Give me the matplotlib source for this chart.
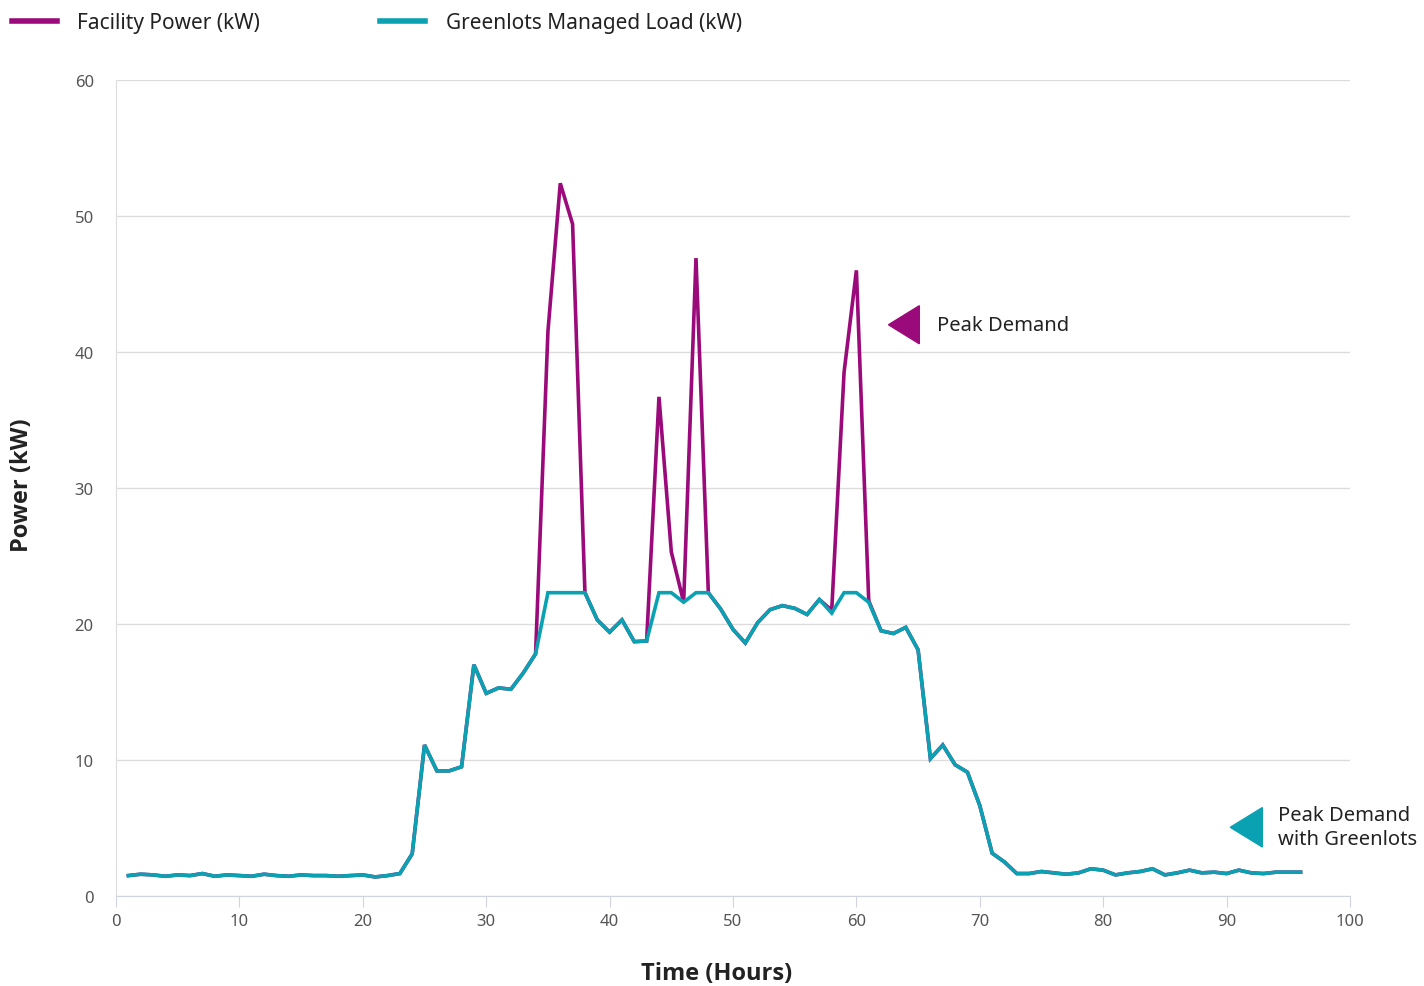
import matplotlib
matplotlib.use("Agg")
import matplotlib.pyplot as plt
from matplotlib.patches import Polygon

plt.rcParams['font.family'] = ['Noto Sans', 'DejaVu Sans']

# hours 1..96
hours = list(range(1, 97))

# Greenlots managed load (kW)
managed = [1.5, 1.6, 1.55, 1.45, 1.55, 1.5, 1.65, 1.45, 1.55, 1.5,
           1.45, 1.6, 1.5, 1.45, 1.55, 1.5, 1.5, 1.45, 1.5, 1.55,
           1.4, 1.5, 1.65, 3.1, 11.1, 9.2, 9.2, 9.5, 17.0, 14.9,
           15.3, 15.2, 16.4, 17.8, 22.3, 22.3, 22.3, 22.3, 20.3, 19.4,
           20.3, 18.7, 18.75, 22.3, 22.3, 21.6, 22.3, 22.3, 21.1, 19.6,
           18.6, 20.1, 21.05, 21.35, 21.15, 20.7, 21.8, 20.8, 22.3, 22.3,
           21.6, 19.5, 19.3, 19.75, 18.1, 10.1, 11.1, 9.65, 9.1, 6.65,
           3.15, 2.5, 1.65, 1.65, 1.8, 1.7, 1.6, 1.7, 2.0, 1.9,
           1.55, 1.7, 1.8, 2.0, 1.55, 1.7, 1.9, 1.7, 1.75, 1.65,
           1.9, 1.7, 1.65, 1.75, 1.75, 1.75]

# facility power (kW): same as managed except at the peaks
peaks = {35: 41.5, 36: 52.4, 37: 49.4, 44: 36.7, 45: 25.3, 47: 46.9,
         58: 21.0, 59: 38.5, 60: 46.0, 61: 21.7}
facility = [peaks.get(h, v) for h, v in zip(hours, managed)]

purple = '#9b0a7a'
teal = '#0aa2b3'

fig = plt.figure(figsize=(14.24, 9.87), dpi=100)
ax = fig.add_axes([0.0815, 0.0912, 0.8665, 0.8268])

ax.plot(hours, facility, color=purple, lw=2.6, solid_joinstyle='miter', zorder=2)
ax.plot(hours, managed, color=teal, lw=2.6, solid_joinstyle='miter', zorder=3)

ax.set_xlim(0, 100)
ax.set_ylim(0, 60)
ax.set_xticks(range(0, 101, 10))
ax.set_yticks(range(0, 61, 10))
ax.grid(axis='y', color='#dcdcdc', lw=1)
ax.set_axisbelow(True)
for s in ['top', 'right']:
    ax.spines[s].set_visible(False)
ax.spines['left'].set_color('#dcdcdc')
ax.spines['bottom'].set_color('#cfd4e0')
ax.tick_params(axis='x', colors='#cfd4e0', length=8, labelcolor='#555555', labelsize=12, pad=4)
ax.tick_params(axis='y', length=0, labelcolor='#555555', labelsize=12, pad=16)

# axis titles placed in figure pixels (bold face from Open Sans)
bold_fam = ['Open Sans', 'DejaVu Sans']
fig.text(717 / 1424, 1 - 974 / 987, 'Time (Hours)', fontsize=17, fontweight='bold',
         family=bold_fam, color='#222222', ha='center', va='center')
fig.text(22 / 1424, 1 - 485 / 987, 'Power (kW)', fontsize=17, fontweight='bold',
         family=bold_fam, color='#222222', ha='center', va='center', rotation=90)

# annotation triangles
ax.add_patch(Polygon([(62.6, 42.0), (65.1, 43.4), (65.1, 40.6)], closed=True,
                     color=purple, clip_on=False))
ax.text(66.5, 42.0, 'Peak Demand', fontsize=14.5, color='#222222', va='center')
ax.add_patch(Polygon([(90.3, 5.05), (92.9, 6.5), (92.9, 3.6)], closed=True,
                     color=teal, clip_on=False))
ax.text(94.2, 5.05, 'Peak Demand\nwith Greenlots', fontsize=14.5, color='#222222',
        va='center', linespacing=1.25)

# legend at the top
fig.add_artist(plt.Line2D([12 / 1424, 57 / 1424], [1 - 22 / 987] * 2, color=purple, lw=4))
fig.text(77 / 1424, 1 - 23 / 987, 'Facility Power (kW)', fontsize=15, color='#222222', va='center')
fig.add_artist(plt.Line2D([380 / 1424, 425 / 1424], [1 - 22 / 987] * 2, color=teal, lw=4))
fig.text(446 / 1424, 1 - 23 / 987, 'Greenlots Managed Load (kW)', fontsize=15, color='#222222', va='center')

fig.savefig('out.png', dpi=100)
